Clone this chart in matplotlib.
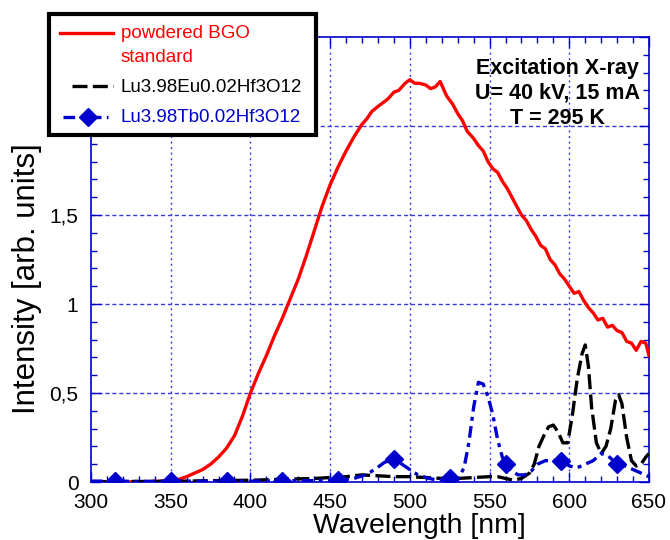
import numpy as np
import matplotlib
matplotlib.use("Agg")
import matplotlib.pyplot as plt
from matplotlib.patches import Rectangle
from matplotlib.ticker import MultipleLocator, FuncFormatter

plt.rcParams['font.family'] = ['Liberation Sans', 'DejaVu Sans']

# powdered BGO standard
bgo_wl = [300, 320, 340, 350, 355, 360, 365, 370, 375, 380, 385, 390, 395, 400,
          405, 410, 415, 420, 425, 430, 435, 440, 445, 450, 455, 460, 465, 470,
          473, 476, 480, 483, 486, 490, 493, 497, 500, 503, 506, 510, 513, 516,
          519, 523, 527, 530, 533, 536, 540, 543, 546, 549, 552, 555, 558, 561,
          564, 567, 570, 573, 576, 579, 582, 585, 588, 591, 594, 597, 600, 603,
          606, 609, 612, 615, 618, 621, 624, 627, 630, 633, 636, 639, 642, 645,
          648, 650]
bgo_int = [0.0, 0.0, 0.003, 0.008, 0.015, 0.03, 0.05, 0.07, 0.1, 0.14, 0.19, 0.26,
           0.37, 0.50, 0.61, 0.71, 0.82, 0.92, 1.03, 1.14, 1.27, 1.41, 1.55, 1.67,
           1.77, 1.86, 1.94, 2.01, 2.04, 2.08, 2.11, 2.13, 2.15, 2.19, 2.20, 2.24,
           2.26, 2.24, 2.24, 2.23, 2.21, 2.22, 2.25, 2.17, 2.12, 2.07, 2.03, 1.97,
           1.93, 1.89, 1.86, 1.80, 1.76, 1.74, 1.69, 1.65, 1.60, 1.55, 1.50, 1.47,
           1.42, 1.38, 1.33, 1.31, 1.25, 1.22, 1.17, 1.14, 1.10, 1.06, 1.07, 1.02,
           0.98, 0.95, 0.91, 0.92, 0.87, 0.88, 0.85, 0.84, 0.79, 0.78, 0.74, 0.79,
           0.78, 0.71]

# Lu3.98Eu0.02Hf3O12
eu_wl = [300, 320, 340, 360, 380, 400, 420, 440, 460, 470, 480, 490, 500, 510,
         520, 530, 540, 550, 555, 560, 565, 570, 575, 578, 581, 584, 587, 590,
         593, 596, 599, 602, 605, 608, 610, 612, 614, 617, 620, 623, 626, 629,
         631, 633, 636, 639, 642, 645, 648, 650]
eu_int = [0.0, 0.003, 0.003, 0.005, 0.008, 0.01, 0.015, 0.02, 0.03, 0.04, 0.035,
          0.03, 0.03, 0.025, 0.02, 0.02, 0.025, 0.03, 0.03, 0.02, 0.01, 0.02, 0.05,
          0.1, 0.2, 0.26, 0.31, 0.32, 0.28, 0.22, 0.22, 0.38, 0.58, 0.72, 0.77,
          0.65, 0.42, 0.22, 0.16, 0.2, 0.3, 0.46, 0.49, 0.44, 0.25, 0.12, 0.09,
          0.1, 0.14, 0.16]

# Lu3.98Tb0.02Hf3O12
tb_wl = [300, 315, 330, 350, 370, 385, 400, 420, 440, 455, 465, 472, 478, 484,
         490, 495, 500, 505, 512, 518, 525, 530, 534, 537, 540, 543, 546, 549,
         552, 555, 558, 560, 564, 568, 572, 576, 580, 585, 590, 595, 600, 605,
         610, 615, 620, 624, 630, 635, 640, 645, 650]
tb_int = [0.005, 0.005, 0.003, 0.005, 0.005, 0.005, 0.005, 0.007, 0.008, 0.01,
          0.02, 0.04, 0.07, 0.11, 0.13, 0.1, 0.07, 0.04, 0.02, 0.01, 0.02, 0.015,
          0.08, 0.22, 0.42, 0.56, 0.55, 0.48, 0.38, 0.24, 0.14, 0.1, 0.06, 0.04,
          0.04, 0.06, 0.1, 0.12, 0.12, 0.12, 0.09, 0.08, 0.1, 0.12, 0.16, 0.15,
          0.1, 0.09, 0.07, 0.05, 0.03]
tb_marker_wl = [315, 350, 385, 420, 455, 490, 525, 560, 595, 630]

labels = ['powdered BGO', 'standard', 'Lu3.98Eu0.02Hf3O12', 'Lu3.98Tb0.02Hf3O12']
note = 'Excitation X-ray\nU= 40 kV, 15 mA\nT = 295 K'

W, H = 670, 540
fig = plt.figure(figsize=(W / 100, H / 100), dpi=100)
ax = fig.add_axes([91 / W, 1 - 482 / H, (649 - 91) / W, (482 - 37) / H])

red = '#ff0000'
blue = '#0000cc'
grid_c = '#3a3ae0'
eu_dash = (4.5, 1.6)
tb_dash = (3.5, 1.6, 1.2, 1.6)

ax.plot(bgo_wl, bgo_int, color=red, lw=2.4, zorder=3)
ax.plot(eu_wl, eu_int, color='black', lw=2.4, dashes=eu_dash, zorder=4)
mk_idx = [tb_wl.index(w) for w in tb_marker_wl]
ax.plot(tb_wl, tb_int, color=blue, lw=2.4, dashes=tb_dash,
        marker='D', markersize=9, markevery=mk_idx, zorder=5)

ax.set_xlim(300, 650)
ax.set_ylim(0, 2.5)
ax.xaxis.set_major_locator(MultipleLocator(50))
ax.xaxis.set_minor_locator(MultipleLocator(10))
ax.yaxis.set_major_locator(MultipleLocator(0.5))
ax.yaxis.set_minor_locator(MultipleLocator(0.1))
ax.yaxis.set_major_formatter(FuncFormatter(lambda v, p: ('%g' % v).replace('.', ',')))

for s in ax.spines.values():
    s.set_color(blue)
    s.set_linewidth(1.2)
ax.tick_params(which='both', direction='in', top=True, right=True, color=blue,
               labelsize=15)
ax.tick_params(which='major', length=7, width=1)
ax.tick_params(which='minor', length=4, width=1)
ax.tick_params(axis='x', pad=8)
ax.tick_params(axis='y', pad=9)

for x in range(350, 650, 50):
    ax.axvline(x, color=grid_c, lw=1, linestyle=(0, (1.5, 2.5)), zorder=1)
for y in [0.5, 1.0, 1.5, 2.0]:
    ax.axhline(y, color=grid_c, lw=1, linestyle=(0, (3, 2)), zorder=1)

ax.set_xlabel('Wavelength [nm]', fontsize=20.5)
ax.set_ylabel('Intensity [arb. units]', fontsize=22.5)
ax.xaxis.set_label_coords(0.588, -0.07)
ax.yaxis.set_label_coords(-0.088, 0.456)

ax.text(592.5, 2.185, note, ha='center', va='center', fontsize=15.5,
        fontweight='bold', linespacing=1.25, zorder=6)

# legend box drawn in pixel coordinates on an overlay
lg = fig.add_axes([0, 0, 1, 1], zorder=10)
lg.set_xlim(0, W)
lg.set_ylim(H, 0)
lg.axis('off')
lg.add_patch(Rectangle((49, 14), 267, 121, facecolor='white', edgecolor='black',
                       lw=3))
lg.plot([60, 113], [33, 33], color=red, lw=2.4)
lg.plot([72, 113], [86, 86], color='black', lw=2.4, dashes=eu_dash)
lg.plot([63, 108], [117, 117], color=blue, lw=2.4, dashes=tb_dash)
lg.plot([88], [117], color=blue, marker='D', markersize=9)
lg.text(121, 34, labels[0], color=red, fontsize=13.5, va='center')
lg.text(121, 58, labels[1], color=red, fontsize=13.5, va='center')
lg.text(121, 87, labels[2], color='black', fontsize=13.5, va='center')
lg.text(121, 117, labels[3], color=blue, fontsize=13.5, va='center')

fig.savefig('out.png', dpi=100)
